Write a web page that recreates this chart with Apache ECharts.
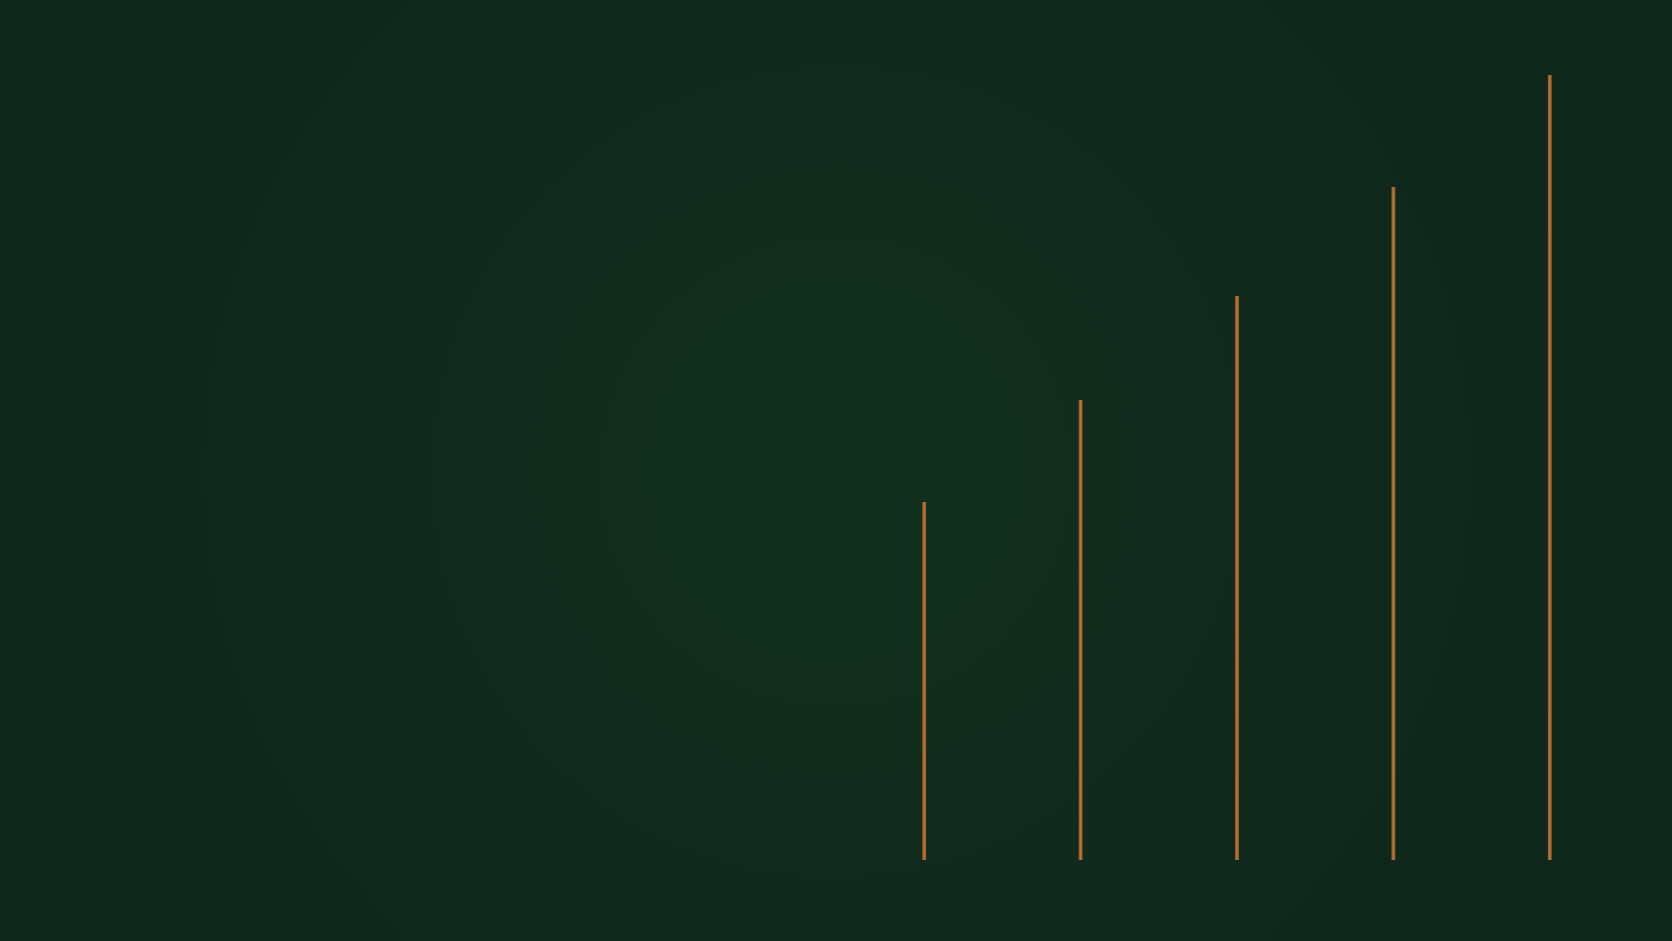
<!DOCTYPE html>
<html>
<head>
<meta charset="utf-8">
<title>chart</title>
<script src="https://cdn.jsdelivr.net/npm/echarts@6/dist/echarts.min.js"></script>
<style>
  html, body { margin: 0; padding: 0; background: #10291d; }
  #main { width: 1672px; height: 941px; }
</style>
</head>
<body>
<div id="main"></div>
<script>
// five steps, rising left to right
var categories = ['1', '2', '3', '4', '5'];
var values = [358, 460, 564, 673, 785];

var myChart = echarts.init(document.getElementById('main'));

option = {
    backgroundColor: {
        type: 'radial', x: 0.5, y: 0.5, r: 0.8,
        colorStops: [
            { offset: 0, color: '#13301f' },
            { offset: 1, color: '#0e271b' }
        ]
    },
    grid: { left: 846, right: 44, top: 60, bottom: 81 },
    xAxis: {
        type: 'category',
        data: categories,
        axisLine: { show: false },
        axisTick: { show: false },
        axisLabel: { show: false }
    },
    yAxis: {
        type: 'value',
        min: 0,
        max: 800,
        show: false,
        splitLine: { show: false }
    },
    series: [
        {
            type: 'bar',
            barWidth: 4,
            data: values,
            itemStyle: {
                color: {
                    type: 'linear', x: 0, y: 0, x2: 1, y2: 0,
                    colorStops: [
                        { offset: 0, color: '#85501f' },
                        { offset: 0.5, color: '#bb7a3b' },
                        { offset: 1, color: '#85501f' }
                    ]
                }
            }
        }
    ]
};
myChart.setOption(option);
window.onresize = myChart.resize;
</script>
</body>
</html>
